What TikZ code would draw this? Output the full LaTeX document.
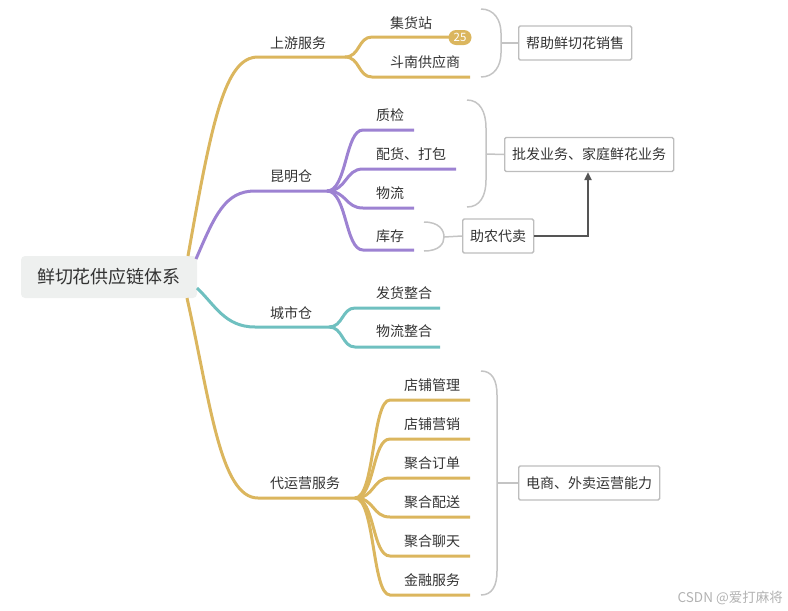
\documentclass[tikz,border=0pt]{standalone}
\usepackage{fontspec}
\setmainfont{Noto Sans CJK SC}
\usetikzlibrary{arrows.meta,positioning,calc}
\definecolor{ylw}{HTML}{DBB65E}
\definecolor{prp}{HTML}{9D82D2}
\definecolor{cyn}{HTML}{6FC0C0}
\definecolor{brk}{HTML}{C4C4C4}
\definecolor{boxln}{HTML}{BDBDBD}
\definecolor{rootbg}{HTML}{EEF0EF}
\definecolor{txt}{HTML}{333333}
\definecolor{arrln}{HTML}{555555}

\begin{document}
\begin{tikzpicture}[x=1pt,y=-1pt,
  lbl/.style={anchor=west,inner sep=0pt,text=txt,font=\fontsize{14}{16}\selectfont},
  rootbox/.style={fill=rootbg,rounded corners=4pt,minimum width=176pt,minimum height=42pt,
    text=txt,font=\fontsize{18}{21}\selectfont},
  infobox/.style={draw=boxln,line width=1.3pt,fill=white,rounded corners=1.5pt,anchor=west,
    minimum height=34pt,inner xsep=7.5pt,text=txt,font=\fontsize{14}{16}\selectfont},
  badge/.style={fill=ylw,rounded corners=7.5pt,minimum width=23pt,minimum height=15pt,
    inner sep=0pt,text=white,font=\fontsize{11.5}{13}\selectfont},
  ylwline/.style={draw=ylw,line width=3pt},
  prpline/.style={draw=prp,line width=3pt},
  cynline/.style={draw=cyn,line width=3pt},
  brkline/.style={draw=brk,line width=1.5pt},
  arr/.style={draw=arrln,line width=2pt,-{Triangle[length=8pt,width=7pt]}}]
  \useasboundingbox (0,0) rectangle (788,611);

  % 中心主题
  \node[rootbox] (root) at (109,277) {鲜切花供应链体系};
  \coordinate (rUp) at (188,256);
  \coordinate (rKm) at (196,259);
  \coordinate (rCs) at (197,288);
  \coordinate (rDy) at (187,298);

  % 上游服务
  \coordinate (upS) at (258,57);
  \coordinate (upF) at (345,57);
  \draw[ylwline] (rUp) .. controls (212,120) and (225,57) .. (upS) -- (upF);
  \node[lbl] (up) at (270,43) {上游服务};
  \coordinate (jhS) at (372,37);  \coordinate (jhE) at (470,37);
  \coordinate (dnS) at (372,77);  \coordinate (dnE) at (470,77);
  \draw[ylwline] (upF) .. controls +(15,0) and +(-14,0) .. (jhS) -- (jhE);
  \draw[ylwline] (upF) .. controls +(15,0) and +(-14,0) .. (dnS) -- (dnE);
  \node[lbl] (jh) at (390,23) {集货站};
  \node[lbl] (dn) at (390,62) {斗南供应商};
  \node[badge] (cnt) at (460,37.5) {25};

  % 昆明仓
  \coordinate (kmS) at (255,191);
  \coordinate (kmF) at (327,191);
  \draw[prpline] (rKm) .. controls (215,215) and (225,191) .. (kmS) -- (kmF);
  \node[lbl] (km) at (270,176) {昆明仓};
  \coordinate (zjS) at (363,130);  \coordinate (zjE) at (414,130);
  \coordinate (phS) at (363,169);  \coordinate (phE) at (456,169);
  \coordinate (wlS) at (363,208);  \coordinate (wlE) at (414,208);
  \coordinate (kcS) at (363,250);  \coordinate (kcE) at (414,250);
  \draw[prpline] (kmF) .. controls +(20,0) and +(-18,0) .. (zjS) -- (zjE);
  \draw[prpline] (kmF) .. controls +(20,0) and +(-18,0) .. (phS) -- (phE);
  \draw[prpline] (kmF) .. controls +(20,0) and +(-18,0) .. (wlS) -- (wlE);
  \draw[prpline] (kmF) .. controls +(20,0) and +(-18,0) .. (kcS) -- (kcE);
  \node[lbl] (zj) at (376,115) {质检};
  \node[lbl] (ph) at (376,154) {配货、打包};
  \node[lbl] (wl) at (376,193) {物流};
  \node[lbl] (kc) at (376,236) {库存};

  % 城市仓
  \coordinate (csS) at (255,327);
  \coordinate (csF) at (329,327);
  \draw[cynline] (rCs) .. controls (215,305) and (225,327) .. (csS) -- (csF);
  \node[lbl] (cs) at (270,313) {城市仓};
  \coordinate (fhS) at (355,308);  \coordinate (fhE) at (440,308);
  \coordinate (wzS) at (355,347);  \coordinate (wzE) at (440,347);
  \draw[cynline] (csF) .. controls +(14,0) and +(-13,0) .. (fhS) -- (fhE);
  \draw[cynline] (csF) .. controls +(14,0) and +(-13,0) .. (wzS) -- (wzE);
  \node[lbl] (fh) at (376,293) {发货整合};
  \node[lbl] (wz) at (376,331) {物流整合};

  % 代运营服务
  \coordinate (dyS) at (258,498);
  \coordinate (dyF) at (355,498);
  \draw[ylwline] (rDy) .. controls (210,400) and (220,498) .. (dyS) -- (dyF);
  \node[lbl] (dy) at (270,483) {代运营服务};
  \coordinate (glS) at (390,400);  \coordinate (glE) at (470,400);
  \coordinate (yxS) at (390,439);  \coordinate (yxE) at (470,439);
  \coordinate (ddS) at (390,478);  \coordinate (ddE) at (470,478);
  \coordinate (psS) at (390,517);  \coordinate (psE) at (470,517);
  \coordinate (ltS) at (390,556);  \coordinate (ltE) at (470,556);
  \coordinate (jrS) at (390,595);  \coordinate (jrE) at (470,595);
  \draw[ylwline] (dyF) .. controls +(20,0) and +(-18,0) .. (glS) -- (glE);
  \draw[ylwline] (dyF) .. controls +(20,0) and +(-18,0) .. (yxS) -- (yxE);
  \draw[ylwline] (dyF) .. controls +(20,0) and +(-18,0) .. (ddS) -- (ddE);
  \draw[ylwline] (dyF) .. controls +(20,0) and +(-18,0) .. (psS) -- (psE);
  \draw[ylwline] (dyF) .. controls +(20,0) and +(-18,0) .. (ltS) -- (ltE);
  \draw[ylwline] (dyF) .. controls +(20,0) and +(-18,0) .. (jrS) -- (jrE);
  \node[lbl] (gl) at (404,385) {店铺管理};
  \node[lbl] (yx) at (404,424) {店铺营销};
  \node[lbl] (dd) at (404,463) {聚合订单};
  \node[lbl] (ps) at (404,502) {聚合配送};
  \node[lbl] (lt) at (404,541) {聚合聊天};
  \node[lbl] (jr) at (404,580) {金融服务};

  % 概括框与括号
  \node[infobox] (bx1) at (518,43) {帮助鲜切花销售};
  \node[infobox] (bx2) at (504,154.5) {批发业务、家庭鲜花业务};
  \node[infobox] (bx3) at (462,236) {助农代卖};
  \node[infobox] (bx4) at (518,483) {电商、外卖运营能力};

  \coordinate (k1) at (501,43);
  \draw[brkline] (481,9) .. controls (494,9) and (501,20) .. (501,33) -- (501,53)
    .. controls (501,66) and (494,77) .. (481,77);
  \draw[brkline] (k1) -- (bx1.west);

  \coordinate (k2) at (486,154);
  \draw[brkline] (467,100) .. controls (480,100) and (486,112) .. (486,128) -- (486,180)
    .. controls (486,196) and (480,207) .. (467,207);
  \draw[brkline] (k2) -- (bx2.west);

  \coordinate (k3) at (444,237);
  \draw[brkline] (424,222) .. controls (439,222) and (444,230) .. (k3)
    .. controls (444,244) and (439,251) .. (424,251);
  \draw[brkline] (k3) -- (bx3.west);

  \coordinate (k4) at (497,483);
  \draw[brkline] (481,371) .. controls (492,371) and (497,380) .. (497,395) -- (497,571)
    .. controls (497,586) and (492,595) .. (481,595);
  \draw[brkline] (k4) -- (bx4.west);

  % 助农代卖 → 批发业务
  \coordinate (akink) at (588,236);
  \draw[arr] (bx3.east) -- (akink) -- (akink |- bx2.south);

  % 水印
  \node[anchor=east,inner sep=0pt,text=black!30,font=\fontsize{13.5}{15}\selectfont] (mark)
    at (783,598) {CSDN @爱打麻将};
\end{tikzpicture}
\end{document}
